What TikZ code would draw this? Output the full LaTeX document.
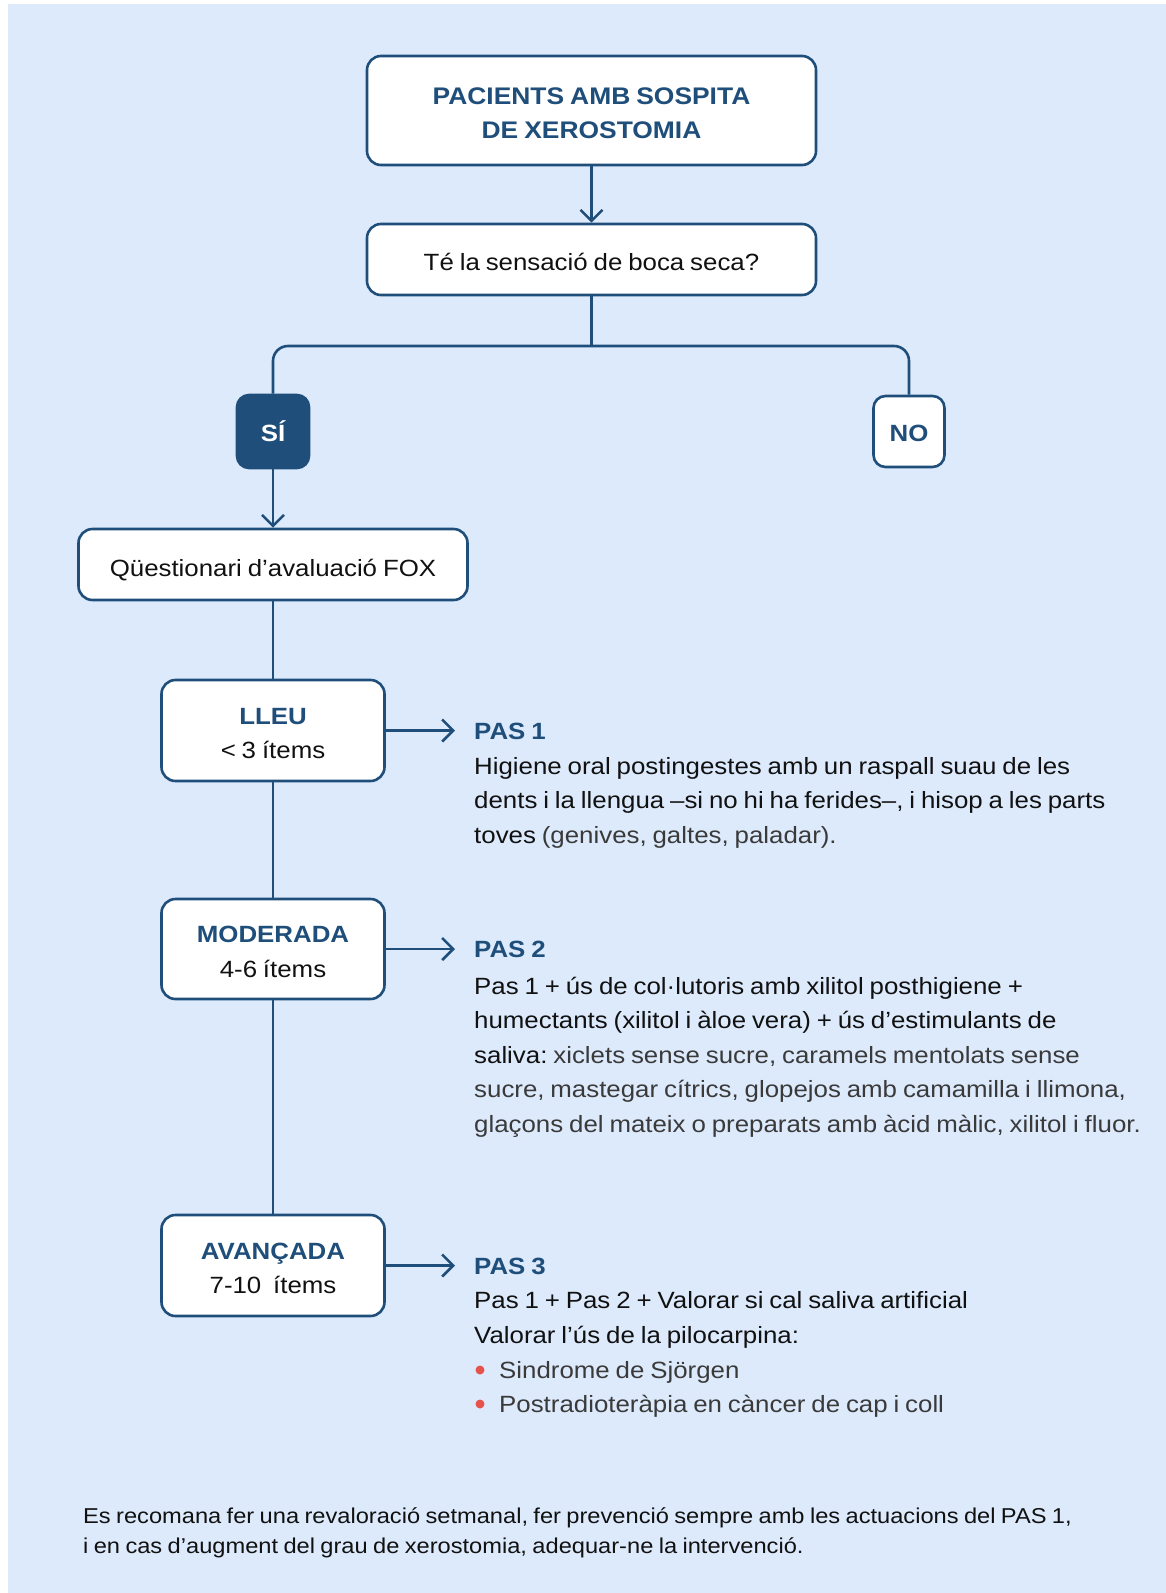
\documentclass[tikz,border=0pt]{standalone}
\usepackage{fontspec}
\setmainfont[FakeStretch=1.1,WordSpace=0.82]{Liberation Sans}
\usetikzlibrary{arrows.meta}
\definecolor{bgblue}{HTML}{DDEAFC}
\definecolor{navy}{HTML}{1E4E79}
\definecolor{bred}{HTML}{E5534B}
\definecolor{ink}{HTML}{111111}
\definecolor{inklight}{HTML}{3A3A3A}
\frenchspacing
\newcommand{\fsbody}{\fontsize{23.5}{34.5}\selectfont\frenchspacing}
\newcommand{\fsfoot}{\fontsize{21.5}{30}\selectfont\frenchspacing}
\tikzset{
  box/.style={draw=navy, line width=2.6pt, fill=white, rounded corners=14pt, align=center,
    inner sep=0pt, font=\fsbody, text=ink},
  twoline/.style={text height=56pt, text depth=0pt},
  ln/.style={draw=navy, line width=2.6pt},
  arr/.style={ln, -{Straight Barb[length=11pt,width=22pt]}},
  head/.style={font=\fsbody\bfseries, text=navy, inner sep=0pt, anchor=base west},
  bodytext/.style={font=\fsbody, text=ink, inner sep=0pt, anchor=base west, align=left},
  bdot/.style={circle, fill=bred, minimum size=9pt, inner sep=0pt},
}
\begin{document}
\begin{tikzpicture}[x=1pt,y=-1pt]
\path[use as bounding box] (0,0) rectangle (1166,1593);
\fill[bgblue] (8,4) rectangle (1166,1593);

% boxes
\node[box, minimum width=449pt, minimum height=109pt, font=\fontsize{24}{34}\selectfont\bfseries, text=navy,
  text height=55pt, text depth=0pt]
  (pac) at (591.5,110.5) {PACIENTS AMB SOSPITA\\DE XEROSTOMIA};
\node[box, minimum width=449pt, minimum height=71pt, text height=21.5pt, text depth=0pt]
  (q) at (591.5,259.5) {Té la sensació de boca seca?};
\node[box, fill=navy, rounded corners=12pt, minimum width=72pt, minimum height=73pt, text=white,
  font=\fsbody\bfseries] (si) at (273,431.5) {SÍ};
\node[box, rounded corners=12pt, minimum width=71pt, minimum height=71pt, text=navy,
  font=\fsbody\bfseries, text height=19pt, text depth=0pt] (no) at (909,431.5) {NO};
\node[box, minimum width=389pt, minimum height=71pt, text height=23pt, text depth=0pt]
  (fox) at (273,564.5) {Qüestionari d’avaluació FOX};
\node[box, twoline, minimum width=223pt, minimum height=101pt] (lleu) at (273,730.5)
  {\textcolor{navy}{\bfseries LLEU}\\< 3 ítems};
\node[box, twoline, minimum width=223pt, minimum height=100pt] (mod) at (273,949)
  {\textcolor{navy}{\bfseries MODERADA}\\4-6 ítems};
\node[box, twoline, minimum width=223pt, minimum height=101pt] (av) at (273,1265.5)
  {\textcolor{navy}{\bfseries AVANÇADA}\\7-10\ \ ítems};

% connectors
\coordinate (brY) at (0,346);
\draw[arr] (pac.south) -- (q.north);
\draw[ln] (q.south) -- (q.south |- brY);
\draw[ln, rounded corners=15pt] (si.north) |- (q.south |- brY) -| (no.north);
\draw[arr] (si.south) -- (fox.north);
\draw[ln] (fox.south) -- (lleu.north);
\draw[ln] (lleu.south) -- (mod.north);
\draw[ln] (mod.south) -- (av.north);

% steps
\node[head] (pas1) at (474,739) {PAS 1};
\node[bodytext] (t1) at (474,843) {Higiene oral postingestes amb un raspall suau de les\\
  dents i la llengua –si no hi ha ferides–, i hisop a les parts\\
  toves \textcolor{inklight}{(genives, galtes, paladar).}};
\node[head] (pas2) at (474,957) {PAS 2};
\node[bodytext] (t2) at (474,1132) {Pas 1 + ús de col·lutoris amb xilitol posthigiene +\\
  humectants (xilitol i àloe vera) + ús d’estimulants de\\
  saliva: \textcolor{inklight}{xiclets sense sucre, caramels mentolats sense}\\
  \textcolor{inklight}{sucre, mastegar cítrics, glopejos amb camamilla i llimona,}\\
  \textcolor{inklight}{glaçons del mateix o preparats amb àcid màlic, xilitol i fluor.}};
\node[head] (pas3) at (474,1274) {PAS 3};
\node[bodytext] (t3) at (474,1343) {Pas 1 + Pas 2 + Valorar si cal saliva artificial\\
  Valorar l’ús de la pilocarpina:};
\node[bdot] (d1) at (480,1370) {};
\node[bodytext, text=inklight] (b1) at (499,1378) {Sindrome de Sjörgen};
\node[bdot] (d2) at (480,1404) {};
\node[bodytext, text=inklight] (b2) at (499,1412) {Postradioteràpia en càncer de cap i coll};

\draw[arr, shorten >=19pt] (lleu.east) -- (lleu.east -| pas1.west);
\draw[arr, shorten >=19pt] (mod.east) -- (mod.east -| pas2.west);
\draw[arr, shorten >=19pt] (av.east) -- (av.east -| pas3.west);

% footer
\node[bodytext, font=\fsfoot] (foot) at (83,1553) {Es recomana fer una revaloració setmanal, fer prevenció sempre amb les actuacions del PAS 1,\\
  i en cas d’augment del grau de xerostomia, adequar-ne la intervenció.};
\end{tikzpicture}
\end{document}
